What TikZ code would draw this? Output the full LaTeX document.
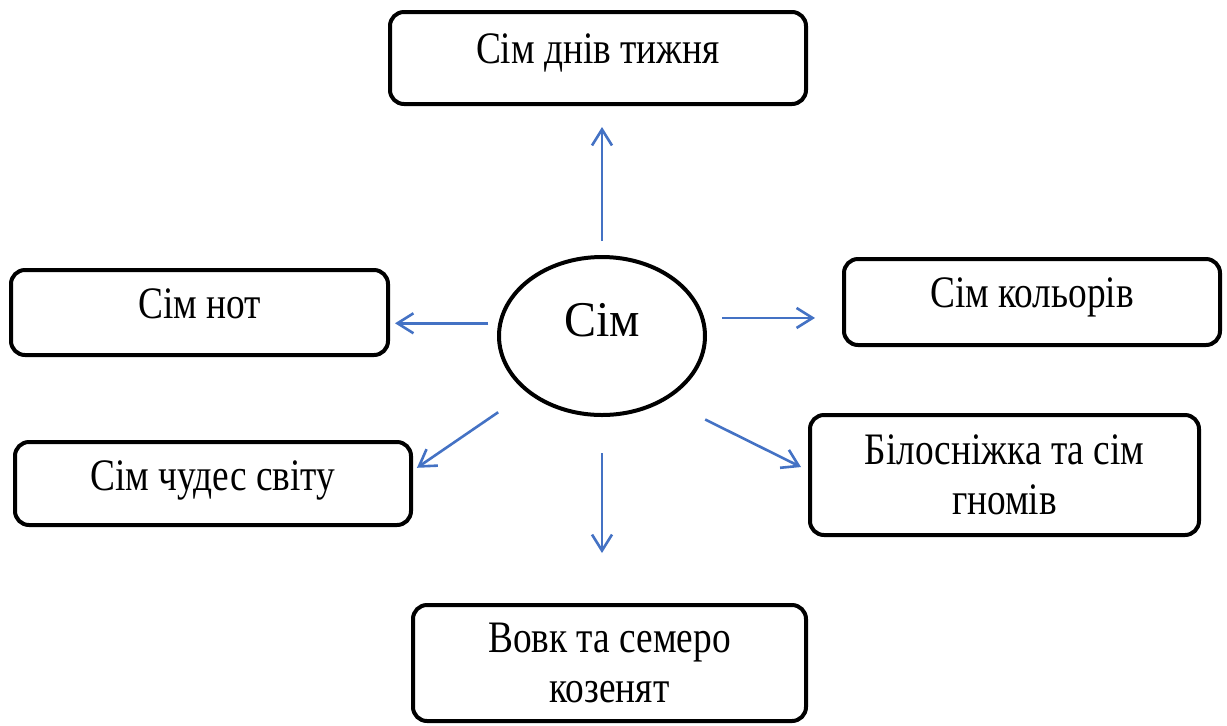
\documentclass[tikz,border=0pt]{standalone}
\usepackage{fontspec}
\setmainfont[FakeStretch=0.83]{Liberation Serif}
\newfontfamily\simfont[FakeStretch=0.96]{Liberation Serif}
\usetikzlibrary{arrows.meta,shapes.geometric}
\definecolor{arrowblue}{HTML}{4472C4}
\begin{document}
\begin{tikzpicture}[x=0.5pt,y=-0.5pt,
  box/.style={draw, line width=2pt, rounded corners=7pt, inner sep=0pt, align=center, font=\fontsize{22.5}{25}\selectfont},
  arr/.style={draw=arrowblue, line width=1.3pt, -{Straight Barb[length=8pt,width=10pt]}}]
  \useasboundingbox (0,0) rectangle (1227,725);

  % Centre node
  \node[draw, ellipse, line width=2pt, minimum width=103pt, minimum height=79pt, inner sep=0pt,
        text height=9pt, text depth=9pt, font=\simfont\fontsize{25}{30}\selectfont] (sim) at (602,336) {Сім};

  % Outer nodes
  \node[box, minimum width=208pt, text height=25.5pt, text depth=20.5pt] (days) at (598,58) {Сім днів тижня};
  \node[box, minimum width=188.5pt, text height=24pt, text depth=18.5pt] (notes) at (199.5,312.5) {Сім нот};
  \node[box, minimum width=188pt, text height=24pt, text depth=19pt] (colours) at (1032,302) {Сім кольорів};
  \node[box, minimum width=198pt, text height=24pt, text depth=17.5pt] (wonders) at (213,483.5) {Сім чудес світу};
  \node[box, minimum width=194.5pt, minimum height=60pt] (snow) at (1004.5,475) {Білосніжка та сім\\гномів};
  \node[box, minimum width=196.5pt, minimum height=58pt] (wolf) at (609.5,663) {Вовк та семеро\\козенят};

  % Arrows
  \draw[arr, shorten <=7pt, shorten >=10.5pt] (sim.north) -- (sim.north |- days.south);
  \draw[arr, shorten <=5pt, shorten >=2.5pt] (sim.173) -- (sim.173 -| notes.east);
  \draw[arr, shorten <=9pt, shorten >=13.5pt] (sim.10) -- (sim.10 -| colours.west);
  \draw[arr, shorten <=17.4pt, shorten >=2.4pt] (sim.217) -- ([yshift=6.5pt]wonders.east);
  \draw[arr, shorten <=21.8pt, shorten >=3.9pt] (sim.315) -- ([yshift=2.25pt]snow.west);
  \draw[arr, shorten <=18pt, shorten >=25pt] (sim.south) -- (sim.south |- wolf.north);
\end{tikzpicture}
\end{document}
